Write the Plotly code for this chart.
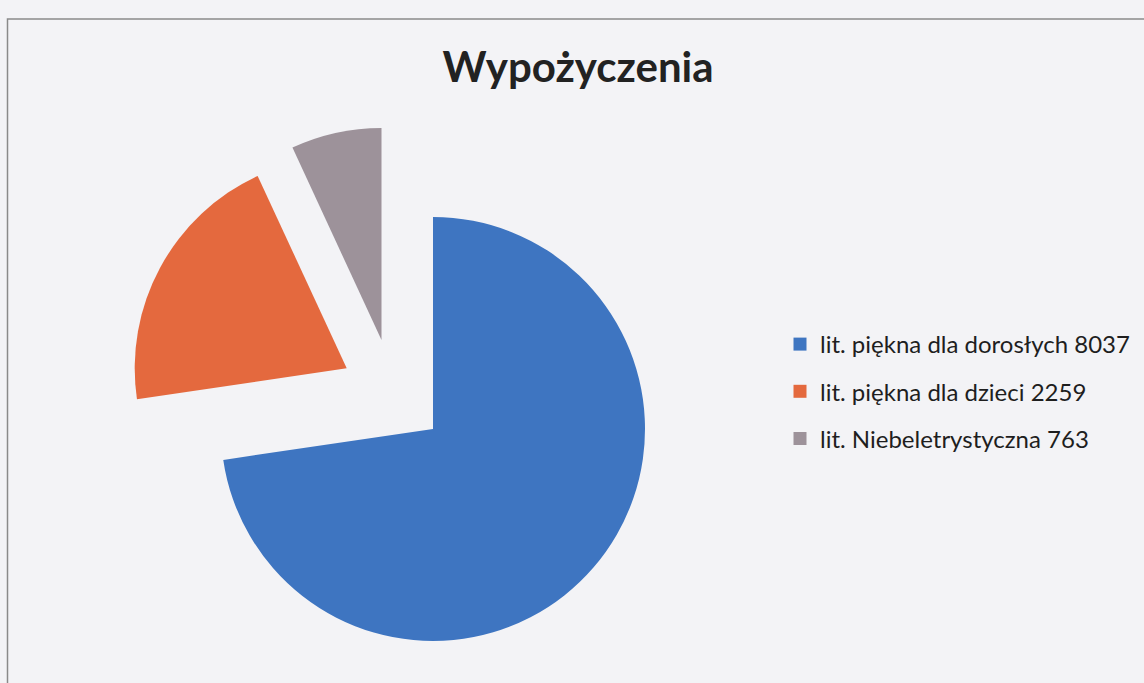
import plotly.graph_objects as go

W, H = 1144, 683

title = "Wypożyczenia"
categories = ["lit. piękna dla dorosłych", "lit. piękna dla dzieci", "lit. Niebeletrystyczna"]
values = [8037, 2259, 763]
colors = ["rgb(62,117,193)", "rgb(228,105,62)", "rgb(157,146,154)"]

# pixel centres of each (exploded) slice apex and common radius
centres = [(433.0, 429.0), (346.7, 368.3), (381.5, 340.0)]
R = 212.0

fig = go.Figure()

for i, (cx, cy) in enumerate(centres):
    cols = [colors[j] if j == i else "rgba(0,0,0,0)" for j in range(len(values))]
    fig.add_trace(go.Pie(
        labels=categories,
        values=values,
        sort=False,
        direction="clockwise",
        rotation=0,
        textinfo="none",
        hoverinfo="label+value+percent",
        marker=dict(colors=cols, line=dict(width=0)),
        domain=dict(x=[(cx - R) / W, (cx + R) / W],
                    y=[(H - cy - R) / H, (H - cy + R) / H]),
        showlegend=False,
    ))

# legend entries
for i, (cat, val) in enumerate(zip(categories, values)):
    fig.add_trace(go.Scatter(
        x=[None], y=[None], mode="markers",
        marker=dict(symbol="square", size=13, color=colors[i]),
        name=f"{cat} {val}",
        legendgroup=f"g{i}",
        showlegend=True,
    ))

fig.update_layout(
    width=W, height=H,
    margin=dict(l=0, r=0, t=0, b=0),
    paper_bgcolor="rgb(243,243,246)",
    plot_bgcolor="rgba(0,0,0,0)",
    xaxis=dict(visible=False),
    yaxis=dict(visible=False),
    title=dict(text=f"<b>{title}</b>", x=578 / W, xanchor="center",
               y=1 - 67 / H, yanchor="middle",
               font=dict(family="Lato", size=42, color="#222222")),
    legend=dict(x=780 / W, xanchor="left", y=1 - 322 / H, yanchor="top",
                traceorder="grouped", tracegroupgap=13,
                bgcolor="rgba(0,0,0,0)",
                font=dict(family="Lato", size=24, color="#1e1e1e")),
    shapes=[dict(type="rect", xref="paper", yref="paper",
                 x0=7.5 / W, x1=1.05, y0=-0.05, y1=1 - 19 / H,
                 line=dict(color="#8a8a8a", width=1.5))],
)

fig.write_html(
    "out.html",
    config={"displayModeBar": False},
    post_script="document.body.style.margin='0';document.body.style.padding='0';"
                "document.body.style.background='rgb(243,243,246)';",
)
